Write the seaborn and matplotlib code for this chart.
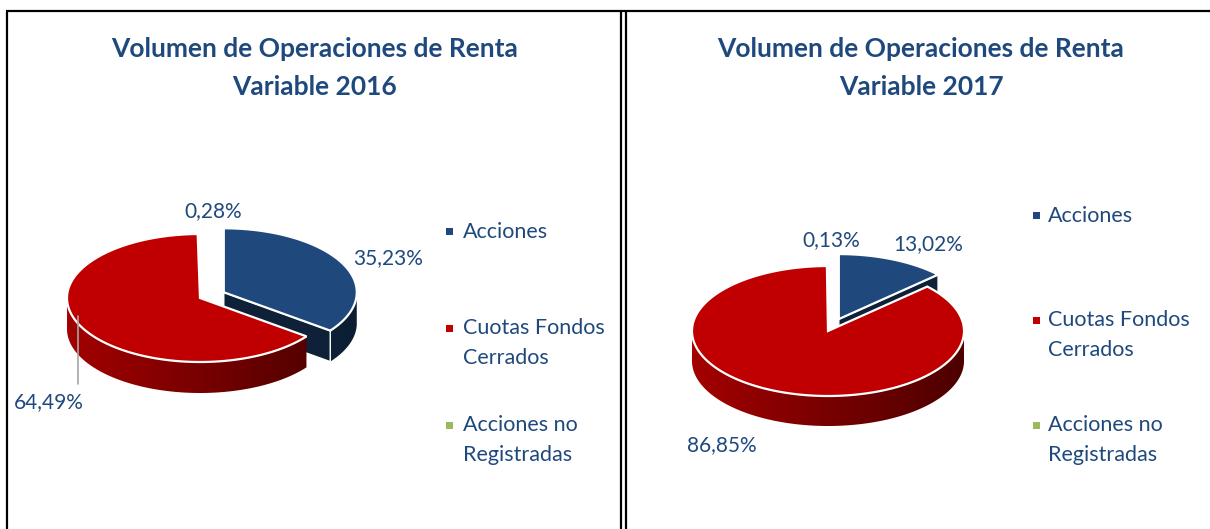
import numpy as np
import matplotlib
matplotlib.use("Agg")
import matplotlib.pyplot as plt
from matplotlib.patches import Polygon, Rectangle
import seaborn as sns

sns.set_theme(style="white")
plt.rcParams["font.family"] = ["Lato", "DejaVu Sans"]

# data
categories = ["Acciones", "Cuotas Fondos\nCerrados", "Acciones no\nRegistradas"]
titles = ["Volumen de Operaciones de Renta\nVariable 2016",
          "Volumen de Operaciones de Renta\nVariable 2017"]
shares_2016 = [35.23, 64.49, 0.28]
shares_2017 = [13.02, 86.85, 0.13]
explode = [0.2, 0.0, 0.0]

palette = sns.color_palette(["#1F497D", "#C00000", "#9BBB59"])
TEXT = "#1F497D"

W, H = 1210, 529


def rim(cx, cy, rx, ry, t):
    t = np.atleast_1d(t)
    return np.column_stack([cx + rx * np.cos(t), cy - ry * np.sin(t)])


def draw_pie3d(ax, values, cx, cy, rx, ry, depth, nudges, leader):
    fr = np.asarray(values, dtype=float) / np.sum(values)
    ends = np.pi / 2 - 2 * np.pi * np.cumsum(fr)
    starts = ends + 2 * np.pi * fr
    mids = (starts + ends) / 2

    # back slices first
    for i in np.argsort(-np.sin(mids)):
        base = np.array(palette[i])
        ox = cx + explode[i] * rx * np.cos(mids[i])
        oy = cy - explode[i] * ry * np.sin(mids[i])
        n = max(int(np.degrees(starts[i] - ends[i]) * 3), 2)
        t = np.linspace(ends[i], starts[i], n)

        # outer wall (front half only), gradient from left to right
        idx = np.flatnonzero(np.sin(t) < 0.02)
        if len(idx):
            runs = np.split(idx, np.where(np.diff(idx) != 1)[0] + 1)
            for r in runs:
                if len(r) < 2:
                    continue
                p = rim(ox, oy, rx, ry, t[r])
                wall = Polygon(np.vstack([p, p[::-1] + [0, depth]]), closed=True,
                               facecolor="none", edgecolor="none")
                ax.add_patch(wall)
                xs = np.linspace(-1, 1, 256)
                shade = 0.85 - 0.45 * (xs + 1) / 2
                img = np.clip(base[None, None, :] * shade[None, :, None], 0, 1)
                im = ax.imshow(img, extent=(ox - rx, ox + rx, oy + ry + depth, oy - ry),
                               aspect="auto", interpolation="bilinear", zorder=1)
                im.set_clip_path(wall)

        # radial cut faces that look toward the viewer
        for ang, vis in ((ends[i], np.cos(ends[i])), (starts[i], -np.cos(starts[i]))):
            if vis < 0.05:
                continue
            p = rim(ox, oy, rx, ry, ang)[0]
            face = [[ox, oy], p, p + [0, depth], [ox, oy + depth]]
            ax.add_patch(Polygon(face, closed=True, facecolor=base * 0.45,
                                 edgecolor="white", linewidth=1.0))

        # top surface
        top = np.vstack([[ox, oy], rim(ox, oy, rx, ry, t)])
        ax.add_patch(Polygon(top, closed=True, facecolor=base,
                             edgecolor="white", linewidth=1.6))

        # data label
        r_lab = 1.35
        lx = ox + r_lab * rx * np.cos(mids[i]) + nudges[i][0]
        ly = oy - r_lab * ry * np.sin(mids[i]) + nudges[i][1]
        if np.sin(mids[i]) < 0:
            ly += depth
        txt = f"{values[i]:.2f}".replace(".", ",") + "%"
        ax.text(lx, ly + 7.5, txt, ha="center", va="baseline",
                fontsize=15, color=TEXT)
        if leader[i]:
            xl = lx + 29
            ct = (xl - cx) / rx
            yl = cy + ry * np.sqrt(max(1 - ct ** 2, 0)) - 8
            ax.plot([xl, xl], [yl, ly - 16], color="#A6A6A6", lw=1.2)


def draw_legend(ax, mx, tx, ytop, pitch, line=29):
    for i, cat in enumerate(categories):
        y = ytop + i * pitch
        nl = cat.count("\n")
        ax.add_patch(Rectangle((mx - 3.5, y - 3), 7, 7, facecolor=palette[i],
                               edgecolor="none"))
        # baseline of the last line
        ax.text(tx, y + 7 + nl * line, cat, ha="left", va="baseline",
                fontsize=15.5, color=TEXT, linespacing=1.6)


fig = plt.figure(figsize=(W / 100, H / 100), dpi=100)
ax = fig.add_axes([0, 0, 1, 1])

# panel frames
ax.plot([6, W], [11, 11], color="black", lw=1.6, solid_capstyle="butt")
for xv in (7, 621, 626):
    ax.plot([xv, xv], [11, H], color="black", lw=1.6, solid_capstyle="butt")

# titles (baseline of second line)
ax.text(315, 95, titles[0], ha="center", va="baseline", fontsize=19,
        fontweight="bold", color=TEXT, linespacing=1.7)
ax.text(921, 95, titles[1], ha="center", va="baseline", fontsize=19,
        fontweight="bold", color=TEXT, linespacing=1.7)

draw_pie3d(ax, shares_2016, cx=200, cy=298, rx=133, ry=64, depth=31,
           nudges=[(4, 3), (9, 32), (15, -2)], leader=[False, True, False])
draw_pie3d(ax, shares_2017, cx=828, cy=331, rx=136, ry=65, depth=30,
           nudges=[(16, 4), (-34, 2), (4, -5)], leader=[False, False, False])

draw_legend(ax, mx=449, tx=463, ytop=231, pitch=97)
draw_legend(ax, mx=1036, tx=1048, ytop=215, pitch=105)

ax.set_xlim(0, W)
ax.set_ylim(H, 0)
ax.axis("off")

fig.savefig("out.png", dpi=100)
